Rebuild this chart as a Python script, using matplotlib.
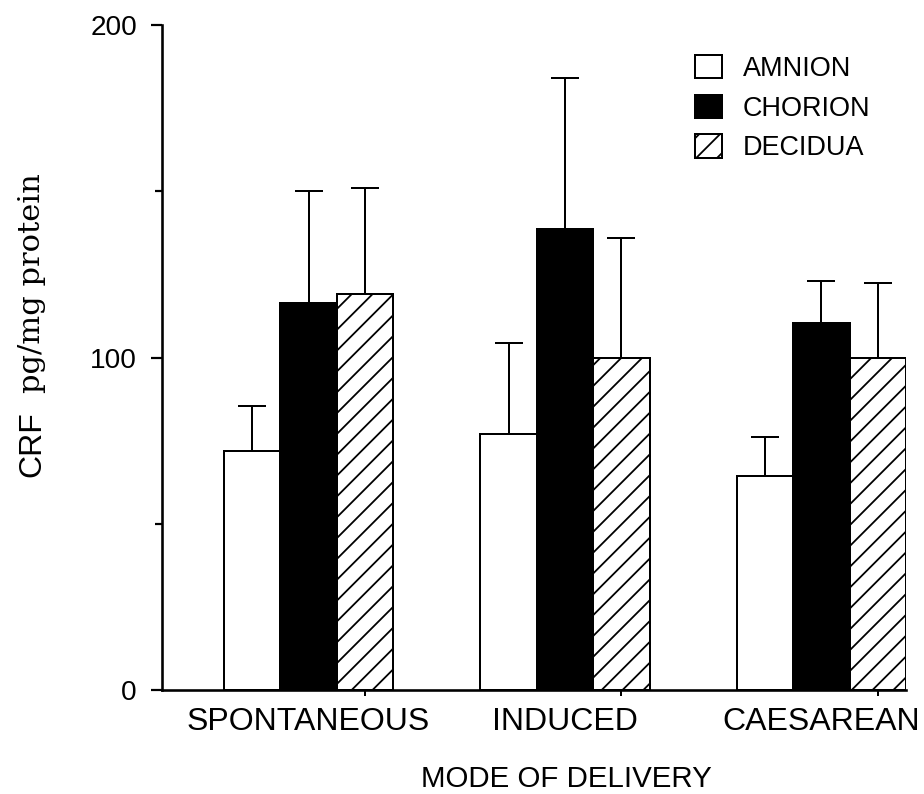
import matplotlib
matplotlib.use("Agg")
import matplotlib.pyplot as plt
import numpy as np
from matplotlib.ticker import FixedLocator

# CRF content of fetal membranes by mode of delivery (mean + SEM)
categories = ["SPONTANEOUS", "INDUCED", "CAESAREAN"]
tissues = ["AMNION", "CHORION", "DECIDUA"]
amnion_mean = [72.0, 77.0, 64.5]
amnion_sem = [13.5, 27.5, 11.5]
chorion_mean = [116.5, 138.5, 110.5]
chorion_sem = [33.5, 45.5, 12.5]
decidua_mean = [119.0, 100.0, 100.0]
decidua_sem = [32.0, 36.0, 22.5]
y_major = [0, 100, 200]
y_minor = [50, 150]

DPI = 125
PX = 72.0 / DPI  # points per pixel

plt.rcParams["font.family"] = ["Liberation Sans", "DejaVu Sans"]
plt.rcParams["hatch.linewidth"] = 1.8 * PX

fig = plt.figure(figsize=(924 / DPI, 794 / DPI), dpi=DPI, facecolor="white")
ax = fig.add_axes([162 / 924, 1 - 690 / 794, (906 - 162) / 924, (690 - 25) / 794])

x = np.arange(len(categories))
w = 0.22
lw = 2.0 * PX

series = [
    (amnion_mean, amnion_sem, dict(facecolor="white", hatch=None)),
    (chorion_mean, chorion_sem, dict(facecolor="black", hatch=None)),
    (decidua_mean, decidua_sem, dict(facecolor="white", hatch="//")),
]
handles = []
for k, (mean, sem, style) in enumerate(series):
    pos = x + (k - 1) * w
    bars = ax.bar(pos, mean, width=w, edgecolor="black", linewidth=lw,
                  zorder=3, **style)
    ax.errorbar(pos, mean, yerr=[np.zeros(len(sem)), sem], fmt="none",
                ecolor="black", elinewidth=lw, capsize=14.5 * PX,
                capthick=lw, zorder=2)
    handles.append(bars[0])

ax.set_xlim(-0.572, x[-1] + 1.5 * w)
ax.set_ylim(0, 200)

for side in ("top", "right"):
    ax.spines[side].set_visible(False)
ax.spines["left"].set_linewidth(2.6 * PX)
ax.spines["bottom"].set_linewidth(2.6 * PX)
ax.spines["left"].set_zorder(4)
ax.spines["bottom"].set_zorder(4)

ax.set_yticks(y_major)
ax.set_yticklabels([str(v) for v in y_major])
ax.yaxis.set_minor_locator(FixedLocator(y_minor))
ax.tick_params(axis="y", which="major", direction="out", length=11 * PX,
               width=2.2 * PX, pad=14 * PX, labelsize=28 * PX)
ax.tick_params(axis="y", which="minor", direction="out", length=7 * PX,
               width=2.2 * PX)

ax.set_xticks(x)
ax.set_xticklabels(categories)
ax.xaxis.set_minor_locator(FixedLocator(x + w))
ax.tick_params(axis="x", which="major", length=0, pad=17 * PX,
               labelsize=32 * PX)
ax.tick_params(axis="x", which="minor", direction="out", length=6 * PX,
               width=2.0 * PX)

fig.text(566 / 924, 1 - 787 / 794, "MODE OF DELIVERY", ha="center",
         va="baseline", fontsize=29.5 * PX)

fig.text(40 / 924, 1 - 444.5 / 794, "CRF", rotation=90, rotation_mode="anchor",
         ha="center", va="baseline", fontsize=32 * PX)
fig.text(40 / 924, 1 - 283 / 794, "pg/mg protein", rotation=90,
         rotation_mode="anchor", ha="center", va="baseline",
         fontsize=30.5 * PX, family="DejaVu Serif")

fig.legend(handles, tissues, loc="upper left",
           bbox_to_anchor=(695 / 924, 1 - 55 / 794),
           bbox_transform=fig.transFigure, frameon=False,
           fontsize=27 * PX, handlelength=1.0, handleheight=0.95,
           handletextpad=0.78, labelspacing=0.47, borderpad=0,
           borderaxespad=0)

fig.savefig("out.png", dpi=DPI, facecolor="white")
